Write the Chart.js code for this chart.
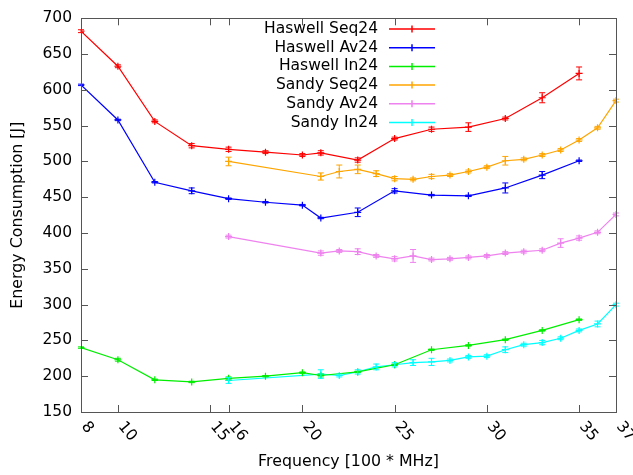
<!DOCTYPE html>
<html>
<head>
<meta charset="utf-8">
<script src="https://cdn.jsdelivr.net/npm/chart.js@4"></script>
<style>
  html, body { margin: 0; padding: 0; background: #fff; }
  #wrap { width: 633px; height: 475px; }
</style>
</head>
<body>
<div id="wrap"><canvas id="energyChart"></canvas></div>
<script>
// frequencies [100 * MHz]
const haswellFreq = [8, 10, 12, 14, 16, 18, 20, 21, 23, 25, 27, 29, 31, 33, 35];
const sandyFreq = [16, 21, 22, 23, 24, 25, 26, 27, 28, 29, 30, 31, 32, 33, 34, 35, 36, 37];
const xTickValues = [8, 10, 15, 16, 20, 25, 30, 35, 37];

// energy [J] and error bars
const haswellSeq = [682, 633, 556, 522, 517, 513, 509, 512, 502, 532, 545, 548, 560, 589, 623];
const haswellSeqErr = [2, 2, 2, 3, 3, 2, 2, 3, 3, 2, 3, 6, 2, 7, 9];
const haswellAv = [607, 558, 471, 459, 448, 443, 439, 421, 429, 459, 453, 452, 463, 481, 501];
const haswellAvErr = [1, 1, 1, 4, 1, 1, 1, 1, 6, 3, 1, 1, 7, 5, 1];
const haswellIn = [240, 223, 195, 192, 197, 200, 205, 201, 206, 216, 237, 243, 251, 264, 279];
const haswellInErr = [1, 2, 1, 1, 2, 1, 1, 2, 1, 1, 1, 1, 1, 1, 1];
const sandySeq = [500, 479, 486, 489, 483, 476, 475, 479, 481, 486, 492, 501, 503, 509, 516, 530, 547, 585];
const sandySeqErr = [6, 5, 9, 6, 4, 3, 2, 3, 2, 2, 2, 6, 2, 2, 2, 2, 2, 2];
const sandyAv = [395, 372, 375, 374, 368, 364, 368, 363, 364, 366, 368, 372, 374, 376, 386, 393, 401, 426];
const sandyAvErr = [2, 3, 2, 4, 2, 3, 9, 2, 2, 2, 2, 2, 2, 2, 6, 3, 2, 2];
const sandyIn = [194, 203, 201, 206, 213, 216, 219, 220, 222, 227, 228, 237, 244, 247, 253, 264, 273, 300];
const sandyInErr = [4, 6, 2, 3, 4, 3, 4, 5, 2, 2, 2, 4, 2, 3, 2, 2, 4, 2];

function pts(xs, ys) {
    return xs.map((x, i) => ({ x: x, y: ys[i] }));
}

function series(label, color, xs, ys, errs) {
    return {
        label: label,
        data: pts(xs, ys),
        errors: errs,
        borderColor: color,
        backgroundColor: color,
        borderWidth: 1.2,
        pointStyle: 'cross',
        pointRadius: 3.5,
        pointBorderWidth: 1.2,
        fill: false,
        tension: 0
    };
}

const frameColor = '#555';

// error bars drawn through the scales
const errorBars = {
    id: 'errorBars',
    afterDatasetsDraw(chart) {
        const ctx = chart.ctx;
        const xs = chart.scales.x, ys = chart.scales.y;
        ctx.save();
        chart.data.datasets.forEach(ds => {
            ctx.strokeStyle = ds.borderColor;
            ctx.lineWidth = 1;
            ds.data.forEach((p, i) => {
                const e = ds.errors[i];
                const px = xs.getPixelForValue(p.x);
                const y1 = ys.getPixelForValue(p.y - e);
                const y2 = ys.getPixelForValue(p.y + e);
                ctx.beginPath();
                ctx.moveTo(px, y1); ctx.lineTo(px, y2);
                ctx.moveTo(px - 3, y1); ctx.lineTo(px + 3, y1);
                ctx.moveTo(px - 3, y2); ctx.lineTo(px + 3, y2);
                ctx.stroke();
            });
        });
        ctx.restore();
    }
};

// box, inward ticks, rotated x labels, legend
const decorations = {
    id: 'decorations',
    afterDraw(chart) {
        const ctx = chart.ctx;
        const a = chart.chartArea;
        const xs = chart.scales.x, ys = chart.scales.y;
        ctx.save();
        ctx.strokeStyle = frameColor;
        ctx.lineWidth = 1;
        ctx.strokeRect(Math.round(a.left) + 0.5, Math.round(a.top) + 0.5,
            Math.round(a.right - a.left), Math.round(a.bottom - a.top));
        ctx.beginPath();
        xTickValues.forEach(v => {
            const px = Math.round(xs.getPixelForValue(v)) + 0.5;
            ctx.moveTo(px, a.bottom); ctx.lineTo(px, a.bottom - 7);
            ctx.moveTo(px, a.top); ctx.lineTo(px, a.top + 7);
        });
        ys.ticks.forEach(t => {
            const py = Math.round(ys.getPixelForValue(t.value)) + 0.5;
            ctx.moveTo(a.left, py); ctx.lineTo(a.left + 7, py);
            ctx.moveTo(a.right, py); ctx.lineTo(a.right - 7, py);
        });
        ctx.stroke();

        ctx.fillStyle = '#000';
        ctx.font = '15.5px "DejaVu Sans"';
        ctx.textAlign = 'left';
        ctx.textBaseline = 'middle';
        xTickValues.forEach(v => {
            const px = xs.getPixelForValue(v);
            ctx.save();
            ctx.translate(px + 3, a.bottom + 12);
            ctx.rotate(50 * Math.PI / 180);
            ctx.fillText(String(v), 0, 0);
            ctx.restore();
        });

        // legend
        chart.data.datasets.forEach((ds, i) => {
            const y = 29 + i * 18.7;
            ctx.fillStyle = '#000';
            ctx.textAlign = 'right';
            ctx.fillText(ds.label, 378, y);
            ctx.strokeStyle = ds.borderColor;
            ctx.lineWidth = 1.5;
            ctx.beginPath();
            ctx.moveTo(389, y); ctx.lineTo(435, y);
            ctx.moveTo(412, y - 3.5); ctx.lineTo(412, y + 3.5);
            ctx.stroke();
        });
        ctx.restore();
    }
};

Chart.defaults.font.family = '"DejaVu Sans", sans-serif';
Chart.defaults.font.size = 15.5;
Chart.defaults.color = '#000';

const ctx = document.getElementById('energyChart').getContext('2d');
const energyChart = new Chart(ctx, {
    type: 'line',
    data: {
        datasets: [
            series('Haswell Seq24', '#ff0000', haswellFreq, haswellSeq, haswellSeqErr),
            series('Haswell Av24', '#0000ff', haswellFreq, haswellAv, haswellAvErr),
            series('Haswell In24', '#00ee00', haswellFreq, haswellIn, haswellInErr),
            series('Sandy Seq24', '#ffa500', sandyFreq, sandySeq, sandySeqErr),
            series('Sandy Av24', '#ee82ee', sandyFreq, sandyAv, sandyAvErr),
            series('Sandy In24', '#00ffff', sandyFreq, sandyIn, sandyInErr)
        ]
    },
    options: {
        responsive: true,
        maintainAspectRatio: false,
        animation: false,
        layout: { padding: { left: 0, right: 17, top: 13, bottom: 0 } },
        scales: {
            x: {
                type: 'linear',
                min: 8,
                max: 37,
                grid: { display: false, drawTicks: false },
                border: { display: false },
                ticks: { display: false },
                title: {
                    display: true,
                    text: 'Frequency [100 * MHz]',
                    font: { size: 15.8 },
                    padding: { top: 4, bottom: 4 }
                },
                afterFit: function(scale) { scale.height = 63; }
            },
            y: {
                min: 150,
                max: 700,
                grid: { display: false, drawTicks: false },
                border: { display: false },
                ticks: { stepSize: 50, padding: 9 },
                title: {
                    display: true,
                    text: 'Energy Consumption [J]',
                    font: { size: 15.8 },
                    padding: { top: 8, bottom: 4 }
                },
                afterFit: function(scale) { scale.width = 81; }
            }
        },
        plugins: {
            legend: { display: false },
            tooltip: { enabled: false }
        }
    },
    plugins: [errorBars, decorations]
});
</script>
</body>
</html>
